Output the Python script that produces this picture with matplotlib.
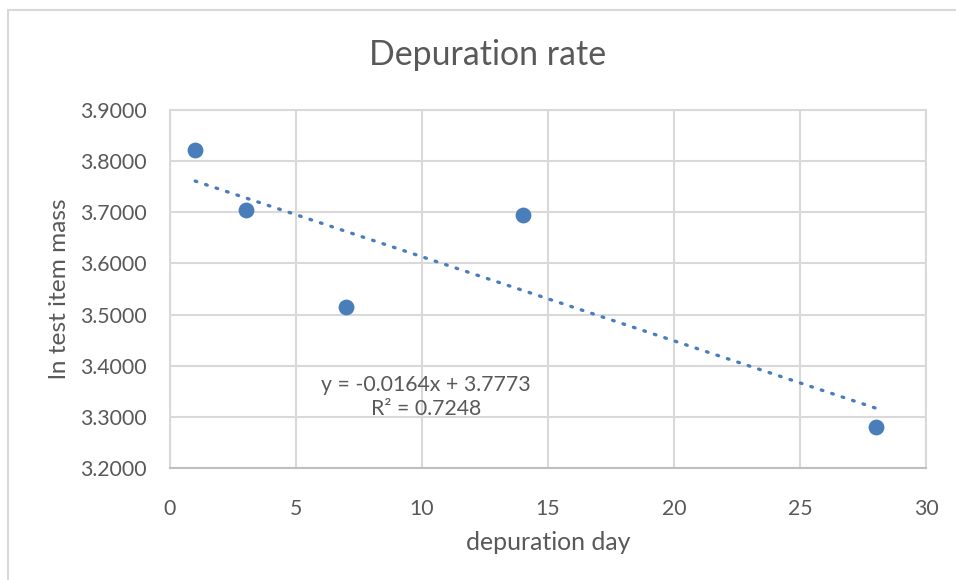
import matplotlib
matplotlib.use("Agg")
import matplotlib.pyplot as plt
from matplotlib.patches import Rectangle
import numpy as np

days = [1, 3, 7, 14, 28]
ln_mass = [3.822, 3.704, 3.515, 3.694, 3.281]
x_ticks = [0, 5, 10, 15, 20, 25, 30]
y_ticks = [3.2, 3.3, 3.4, 3.5, 3.6, 3.7, 3.8, 3.9]
title = "Depuration rate"
xlabel = "depuration day"
ylabel = "ln test item mass"
eq_text = "y = -0.0164x + 3.7773\nR² = 0.7248"

plt.rcParams['font.family'] = ['Lato', 'DejaVu Sans']
txt = '#595959'
grid = '#d9d9d9'
blue = '#4a7ebb'

W, H = 956, 580
fig = plt.figure(figsize=(W/100, H/100), dpi=100)
fig.patches.append(Rectangle((8/W, -0.05), 1.2, 1 - 10/H + 0.05, transform=fig.transFigure,
                             fill=False, edgecolor=grid, linewidth=1.5))
ax = fig.add_axes([170/W, 1 - 468/H, (926 - 170)/W, (468 - 110)/H])

ax.set_xlim(0, 30)
ax.set_ylim(3.2, 3.9)
ax.set_xticks(x_ticks)
ax.set_yticks(y_ticks)
ax.set_yticklabels([f"{v:.4f}" for v in y_ticks])
ax.grid(True, color=grid, linewidth=1.5)
ax.set_axisbelow(True)
for s in ax.spines.values():
    s.set_color(grid)
    s.set_linewidth(1.5)
ax.spines['bottom'].set_color('#bfbfbf')
ax.tick_params(length=0, labelsize=15.3, colors=txt)
ax.tick_params(axis='y', pad=17)
ax.tick_params(axis='x', pad=22)

# trendline
coef = np.polyfit(days, ln_mass, 1)
xs = np.array([days[0], days[-1]])
ax.plot(xs, np.polyval(coef, xs), color=blue, linewidth=2.4,
        linestyle=(0, (0.5, 2.8)), dash_capstyle='round', zorder=2)

ax.scatter(days, ln_mass, s=130, color=blue, zorder=3, linewidths=0)

ax.text(10.16, 3.339, eq_text, ha='center', va='center', fontsize=15.3,
        color=txt, linespacing=1.2)

fig.text(488/W, 1 - 55/H, title, ha='center', va='center', fontsize=24.4, color=txt)
fig.text(548/W, 1 - 542/H, xlabel, ha='center', va='center', fontsize=17.9, color=txt)
fig.text(60/W, 1 - 289/H, ylabel, ha='center', va='center', fontsize=17.6, color=txt,
         rotation=90)

fig.savefig("out.png", dpi=100)
